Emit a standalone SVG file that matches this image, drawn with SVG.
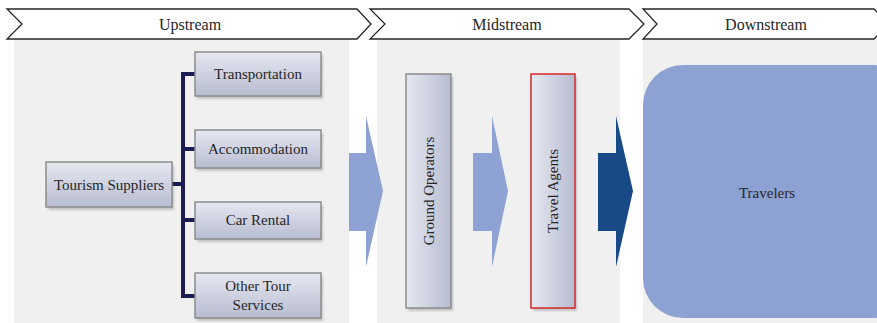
<svg xmlns="http://www.w3.org/2000/svg" width="877" height="323" viewBox="0 0 877 323" font-family="Liberation Serif, Times New Roman, serif">
  <style>
    .hdr { fill: #ffffff; stroke: #262626; stroke-width: 1.3; }
    .hdr-t { font-family: 'Liberation Serif', 'Times New Roman', serif; font-size: 16px; fill: #262626; text-anchor: middle; }
    .panel { fill: #f0f0f0; }
    .box { fill: url(#gV); stroke: #8c8c8c; stroke-width: 1.5; }
    .vbox { fill: url(#gH); stroke: #8c8c8c; stroke-width: 1.5; }
    .shadow { fill: #000000; opacity: 0.18; }
    .lbl { font-family: 'Liberation Serif', 'Times New Roman', serif; font-size: 15px; fill: #262626; text-anchor: middle; }
    .conn { fill: none; stroke: #1c1c52; stroke-width: 4; }
  </style>
  <defs>
    <linearGradient id="gV" x1="0" y1="0" x2="0" y2="1">
      <stop offset="0" stop-color="#e6e8f1"/>
      <stop offset="1" stop-color="#b7bcd0"/>
    </linearGradient>
    <linearGradient id="gH" x1="0" y1="0" x2="1" y2="0">
      <stop offset="0" stop-color="#e6e8f1"/>
      <stop offset="1" stop-color="#b7bcd0"/>
    </linearGradient>
    <filter id="soft" x="-10%" y="-10%" width="130%" height="130%">
      <feGaussianBlur stdDeviation="1.2"/>
    </filter>
  </defs>

  <!-- stage headers -->
  <g id="hdr-upstream">
    <path class="hdr" d="M7,9 H357 L371,24 L357,39 H7 L22,24 Z"/>
    <text class="hdr-t" x="190" y="30">Upstream</text>
  </g>
  <g id="hdr-midstream">
    <path class="hdr" d="M370,9 H629 L644,24 L629,39 H370 L385,24 Z"/>
    <text class="hdr-t" x="507" y="30">Midstream</text>
  </g>
  <g id="hdr-downstream">
    <path class="hdr" d="M643,9 H874 L878,13 V35 L874,39 H643 L657,24 Z"/>
    <text class="hdr-t" x="766" y="30">Downstream</text>
  </g>

  <!-- stage panels -->
  <rect class="panel" x="14" y="40" width="335" height="283"/>
  <rect class="panel" x="377" y="40" width="243" height="283"/>
  <rect class="panel" x="643" y="40" width="234" height="283"/>

  <!-- connectors -->
  <g id="connectors">
    <path class="conn" d="M172,184 H183"/>
    <path class="conn" d="M195,74 H183 V296 H195"/>
    <path class="conn" d="M183,149 H195"/>
    <path class="conn" d="M183,220 H195"/>
    <!-- flow arrows between stages -->
    <path d="M349,153 H366 V116 L383,191 L366,267 V231 H349 Z" fill="#8fa2d4"/>
    <path d="M473,153 H492 V116 L508,191 L492,267 V231 H473 Z" fill="#8fa2d4"/>
    <path d="M598,153 H616 V116 L633,191 L616,267 V231 H598 Z" fill="#174a86"/>
  </g>

  <!-- upstream nodes -->
  <g id="tourism-suppliers">
    <rect class="shadow" x="48" y="165" width="126" height="45" filter="url(#soft)"/>
    <rect class="box" x="46" y="162" width="126" height="45"/>
    <text class="lbl" x="109" y="190">Tourism Suppliers</text>
  </g>
  <g id="transportation">
    <rect class="shadow" x="197" y="55" width="126" height="44" filter="url(#soft)"/>
    <rect class="box" x="195" y="52" width="126" height="44"/>
    <text class="lbl" x="258" y="79">Transportation</text>
  </g>
  <g id="accommodation">
    <rect class="shadow" x="197" y="133" width="126" height="38" filter="url(#soft)"/>
    <rect class="box" x="195" y="130" width="126" height="38"/>
    <text class="lbl" x="258" y="154">Accommodation</text>
  </g>
  <g id="car-rental">
    <rect class="shadow" x="197" y="205" width="126" height="37" filter="url(#soft)"/>
    <rect class="box" x="195" y="202" width="126" height="37"/>
    <text class="lbl" x="258" y="225">Car Rental</text>
  </g>
  <g id="other-tour-services">
    <rect class="shadow" x="197" y="276" width="126" height="45" filter="url(#soft)"/>
    <rect class="box" x="195" y="273" width="126" height="45"/>
    <text class="lbl" x="258" y="291">Other Tour</text>
    <text class="lbl" x="258" y="310">Services</text>
  </g>

  <!-- midstream nodes -->
  <g id="ground-operators">
    <rect class="shadow" x="408" y="77" width="45" height="234" filter="url(#soft)"/>
    <rect class="vbox" x="406" y="74" width="45" height="234"/>
    <text class="lbl" transform="translate(434,191) rotate(-90)">Ground Operators</text>
  </g>
  <g id="travel-agents">
    <rect class="shadow" x="533" y="77" width="44" height="234" filter="url(#soft)"/>
    <rect class="vbox" x="531" y="74" width="44" height="234" style="stroke:#d8262b"/>
    <text class="lbl" transform="translate(558,191) rotate(-90)">Travel Agents</text>
  </g>

  <!-- downstream node -->
  <g id="travelers">
    <rect x="643" y="65" width="270" height="253" rx="40" ry="40" fill="#8ea1d3"/>
    <text class="lbl" x="767" y="198">Travelers</text>
  </g>
</svg>
